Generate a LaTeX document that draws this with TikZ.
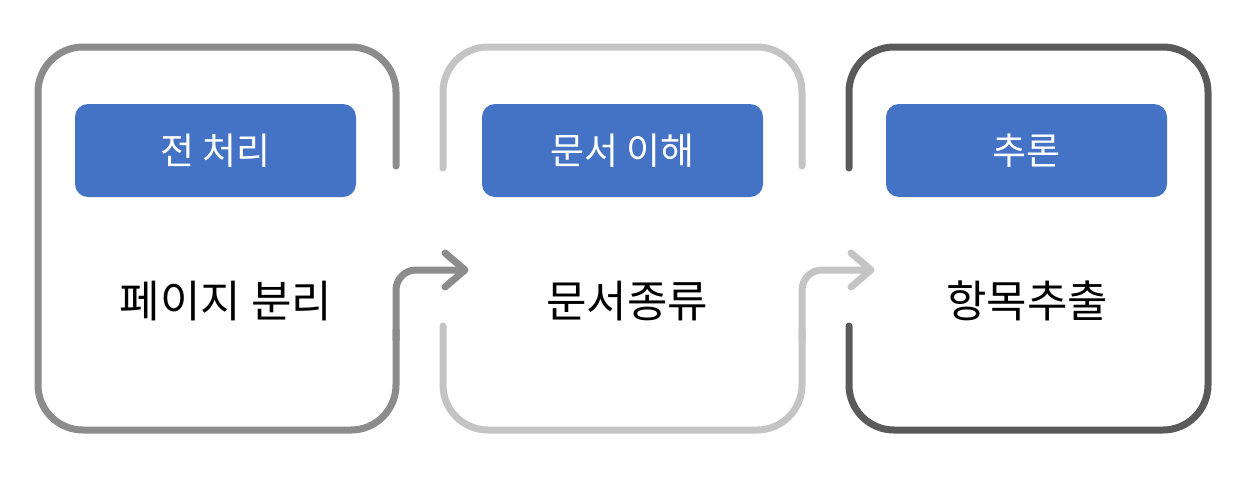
\documentclass[tikz,border=0pt]{standalone}
\usepackage{fontspec}
\newfontfamily\kr{Noto Sans CJK KR}
\definecolor{blu}{HTML}{4472C4}
\definecolor{gA}{HTML}{8C8C8C}
\definecolor{gB}{HTML}{C4C4C4}
\definecolor{gC}{HTML}{5A5A5A}
\begin{document}
\begin{tikzpicture}[x=1pt,y=-1pt,
  frame/.style={line width=7pt,line cap=round,line join=round},
  lab/.style={fill=blu,rounded corners=13pt,minimum width=281pt,minimum height=93pt,inner sep=0pt,text=white,font=\kr\fontsize{37}{40}\selectfont},
  main/.style={inner sep=0pt,font=\kr\fontsize{44}{48}\selectfont}]
\useasboundingbox (0,0) rectangle (1243,477);
% box 1
\draw[frame,gA,rounded corners=45pt] (396,166) -- (396,47) -- (38,47) -- (38,430) -- (396,430) -- (396,330);
\draw[frame,gA] (396,340) -- (396,290) .. controls (396,279) and (405,270) .. (416,270) -- (464,270);
\draw[frame,gA] (445,253) -- (465,270) -- (445,287);
% box 2
\draw[frame,gB,rounded corners=45pt] (443,168) -- (443,47) -- (802,47) -- (802,166);
\draw[frame,gB,rounded corners=45pt] (443,326) -- (443,430) -- (802,430) -- (802,330);
\draw[frame,gB] (802,340) -- (802,290) .. controls (802,279) and (811,270) .. (822,270) -- (870,270);
\draw[frame,gB] (851,253) -- (871,270) -- (851,287);
% box 3
\draw[frame,gC,rounded corners=45pt] (849,168) -- (849,47) -- (1208,47) -- (1208,430) -- (849,430) -- (849,326);
% labels
\node[lab] (l1) at (215.5,150.5) {전 처리};
\node[lab] (l2) at (622.5,150.5) {문서 이해};
\node[lab] (l3) at (1026.5,150.5) {추론};
\node[main] (t1) at (226,301) {페이지 분리};
\node[main] (t2) at (627,301) {문서종류};
\node[main] (t3) at (1027,301) {항목추출};
\end{tikzpicture}
\end{document}
